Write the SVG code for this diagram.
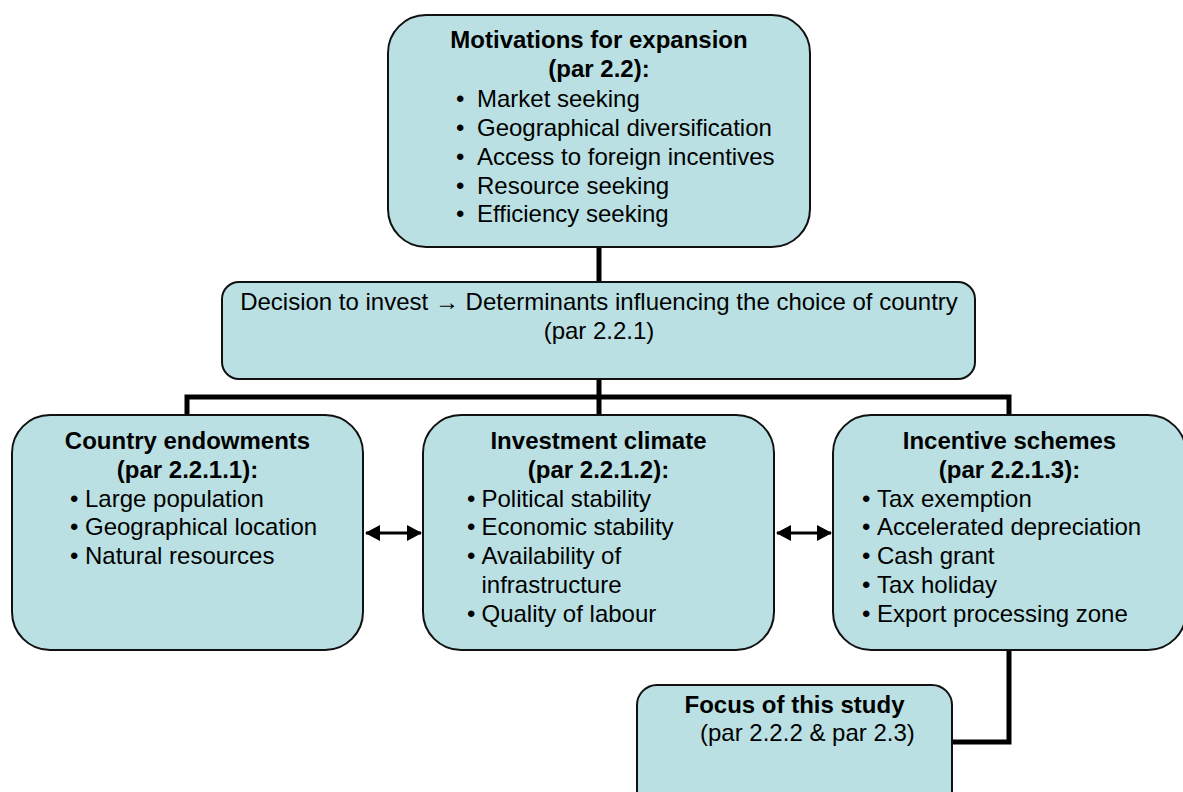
<svg xmlns="http://www.w3.org/2000/svg" width="1183" height="792" viewBox="0 0 1183 792">
  <style>
    .box { fill: #BAE0E3; stroke: #111; stroke-width: 2; }
    text { font-family: "Liberation Sans", Arial, sans-serif; font-size: 24px; fill: #000; }
    .b { font-weight: bold; }
    .c { text-anchor: middle; }
    .conn { fill: none; stroke: #000; stroke-width: 5; stroke-linecap: butt; stroke-linejoin: miter; }
    .arr { stroke: #000; stroke-width: 3; }
  </style>
  <defs>
    <marker id="ah" markerUnits="userSpaceOnUse" markerWidth="16" markerHeight="16" refX="14" refY="8" orient="auto-start-reverse">
      <path d="M0,0 L15,8 L0,16 Z" fill="#000"/>
    </marker>
  </defs>
  <rect width="1183" height="792" fill="#fff"/>

  <g id="connectors">
    <path class="conn" d="M599,246 V283"/>
    <path class="conn" d="M599,378 V416"/>
    <path class="conn" d="M187,416 V397 H1009 V416"/>
    <path class="conn" d="M1009,649 V742 H951"/>
    <line class="arr" x1="366" y1="533" x2="421" y2="533" marker-start="url(#ah)" marker-end="url(#ah)"/>
    <line class="arr" x1="777" y1="533" x2="831" y2="533" marker-start="url(#ah)" marker-end="url(#ah)"/>
  </g>

  <g id="motivations">
    <rect class="box" x="388" y="15" width="422" height="232" rx="38" ry="38"/>
    <text class="b c" x="599" y="48">Motivations for expansion</text>
    <text class="b c" x="599" y="77">(par 2.2):</text>
    <text x="456" y="107">•</text><text x="477" y="107">Market seeking</text>
    <text x="456" y="136">•</text><text x="477" y="136">Geographical diversification</text>
    <text x="456" y="165">•</text><text x="477" y="165">Access to foreign incentives</text>
    <text x="456" y="193.5">•</text><text x="477" y="193.5">Resource seeking</text>
    <text x="456" y="222">•</text><text x="477" y="222">Efficiency seeking</text>
  </g>

  <g id="decision">
    <rect class="box" x="222" y="282" width="753" height="97" rx="17" ry="17"/>
    <text class="c" x="599" y="310">Decision to invest → Determinants influencing the choice of country</text>
    <text class="c" x="599" y="339">(par 2.2.1)</text>
  </g>

  <g id="country-endowments">
    <rect class="box" x="12" y="415" width="351" height="235" rx="38" ry="38"/>
    <text class="b c" x="187.5" y="449">Country endowments</text>
    <text class="b c" x="187.5" y="478">(par 2.2.1.1):</text>
    <text x="70" y="506.5">•</text><text x="85" y="506.5">Large population</text>
    <text x="70" y="535.3">•</text><text x="85" y="535.3">Geographical location</text>
    <text x="70" y="564">•</text><text x="85" y="564">Natural resources</text>
  </g>

  <g id="investment-climate">
    <rect class="box" x="423" y="415" width="351" height="235" rx="38" ry="38"/>
    <text class="b c" x="598.5" y="449">Investment climate</text>
    <text class="b c" x="598.5" y="478">(par 2.2.1.2):</text>
    <text x="467" y="506.5">•</text><text x="481.5" y="506.5">Political stability</text>
    <text x="467" y="535.3">•</text><text x="481.5" y="535.3">Economic stability</text>
    <text x="467" y="564">•</text><text x="481.5" y="564">Availability of</text>
    <text x="481.5" y="592.8">infrastructure</text>
    <text x="467" y="621.5">•</text><text x="481.5" y="621.5">Quality of labour</text>
  </g>

  <g id="incentive-schemes">
    <rect class="box" x="833" y="415" width="353" height="235" rx="38" ry="38"/>
    <text class="b c" x="1009.5" y="449">Incentive schemes</text>
    <text class="b c" x="1009.5" y="478">(par 2.2.1.3):</text>
    <text x="862" y="506.5">•</text><text x="877" y="506.5">Tax exemption</text>
    <text x="862" y="535.3">•</text><text x="877" y="535.3">Accelerated depreciation</text>
    <text x="862" y="564">•</text><text x="877" y="564">Cash grant</text>
    <text x="862" y="592.8">•</text><text x="877" y="592.8">Tax holiday</text>
    <text x="862" y="621.5">•</text><text x="877" y="621.5">Export processing zone</text>
  </g>

  <g id="focus">
    <rect class="box" x="637" y="685" width="315" height="125" rx="20" ry="20"/>
    <text class="b c" x="794.5" y="712.5">Focus of this study</text>
    <text x="700" y="741">(par 2.2.2 &amp; par 2.3)</text>
  </g>
</svg>
